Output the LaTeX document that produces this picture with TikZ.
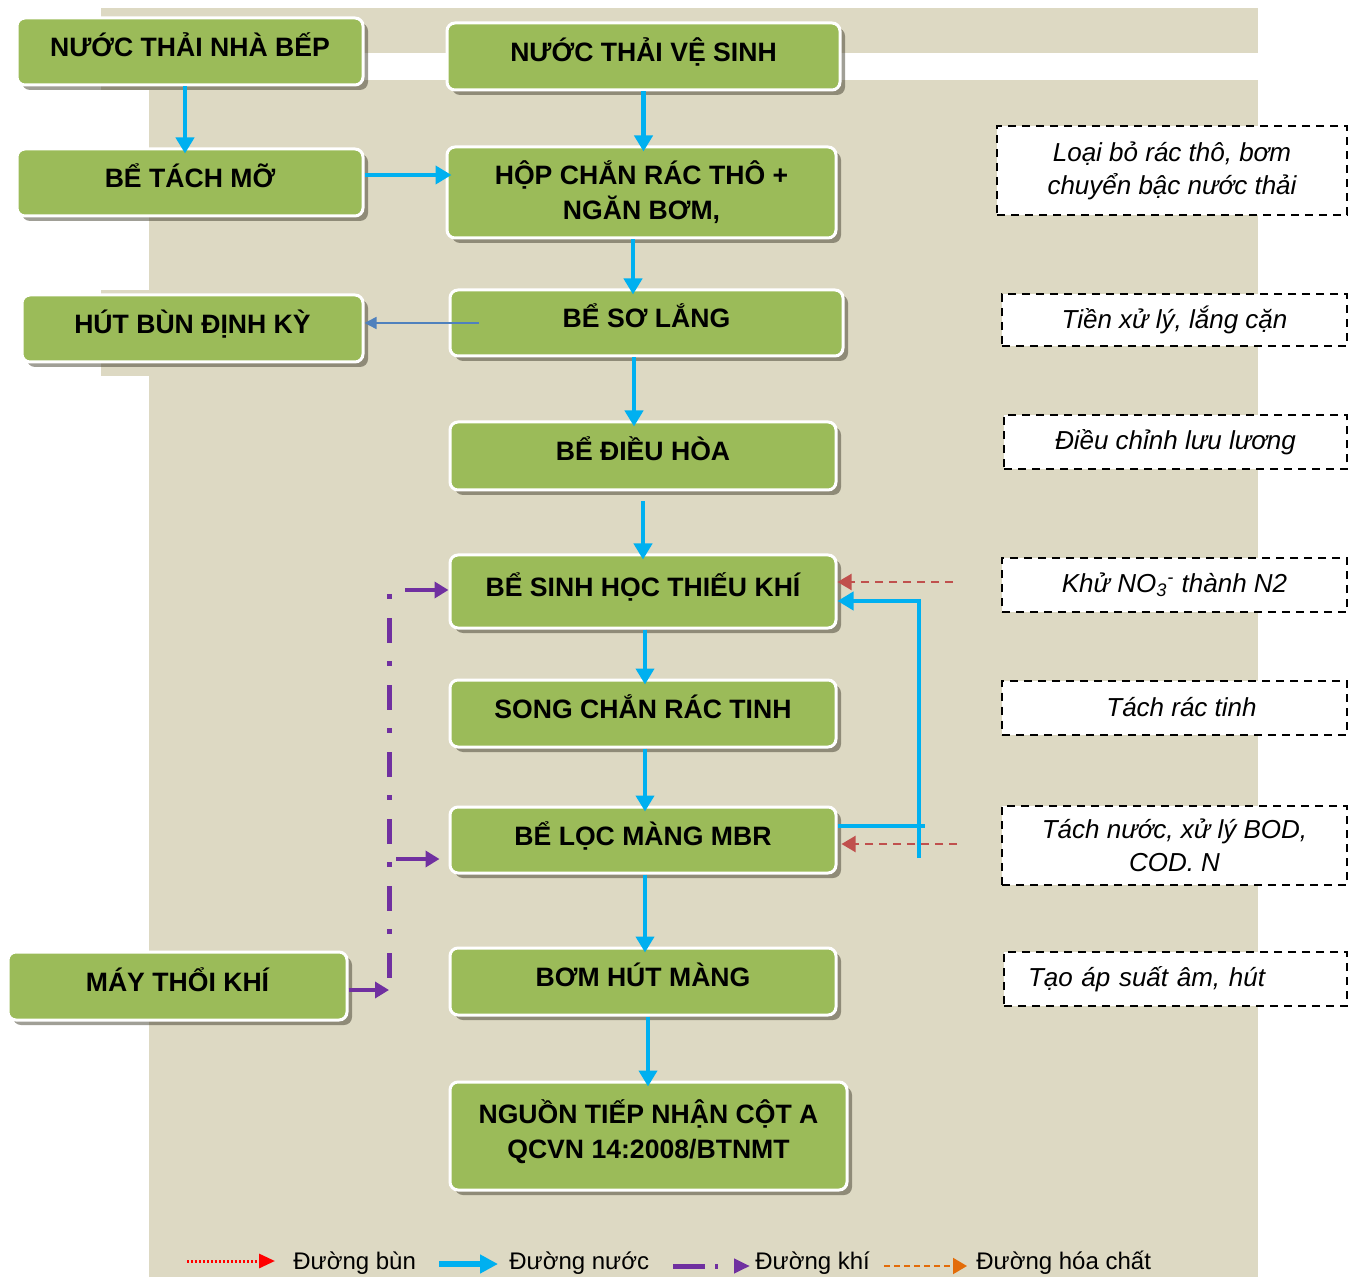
\documentclass[tikz,border=0pt]{standalone}
\usepackage{fontspec}
\setmainfont{Liberation Sans}
\usetikzlibrary{arrows.meta, shadows}

\definecolor{panelbeige}{HTML}{DDD9C3}
\definecolor{stagegreen}{HTML}{9BBB59}
\definecolor{waterblue}{HTML}{00B0F0}
\definecolor{sludgered}{HTML}{C0504D}
\definecolor{airpurple}{HTML}{7030A0}
\definecolor{chemorange}{HTML}{E36C09}
\definecolor{drainblue}{HTML}{4F81BD}

\begin{document}
\begin{tikzpicture}[
  x = 0.5pt, y = -0.5pt,
  stage/.style = {
    shape = rectangle,
    rounded corners = 4pt,
    fill = stagegreen,
    draw = white,
    line width = 1.5pt,
    drop shadow = {shadow xshift = 2.5pt, shadow yshift = -2.5pt, opacity = 0.5, fill = black!70!olive},
    font = \bfseries\fontsize{13.3}{17.5}\selectfont,
    align = center,
    inner sep = 0pt,
    minimum width = 193pt,
    minimum height = 33.5pt,
  },
  oneline/.style = {
    text height = 9pt,
    text depth = 4pt
  },
  note/.style = {
    shape = rectangle,
    fill = white,
    draw = black,
    line width = 1pt,
    dash pattern = on 4pt off 3pt,
    font = \itshape\fontsize{13}{16.5}\selectfont,
    align = center,
    inner sep = 0pt,
    minimum width = 172.5pt,
    minimum height = 27pt,
  },
  legend/.style = {
    font = \fontsize{12}{14}\selectfont,
    anchor = west,
    inner sep = 0pt
  },
  water/.style = {
    draw = waterblue,
    line width = 2.2pt,
    -{Triangle[length = 8pt, width = 9pt]},
    shorten > = -3pt
  },
  sludge/.style = {
    draw = sludgered,
    line width = 1pt,
    dash pattern = on 4pt off 3pt,
    -{Triangle[length = 7pt, width = 8pt]}
  },
  air/.style = {
    draw = airpurple,
    line width = 2pt,
    -{Triangle[length = 7pt, width = 8pt]}
  },
  airline/.style = {
    draw = airpurple,
    line width = 2.5pt,
    dash pattern = on 2.5pt off 9.5pt on 12.5pt off 9pt
  },
  drain/.style = {
    draw = drainblue,
    line width = 0.75pt,
    -{Triangle[length = 6pt, width = 6pt]}
  }
]
  \useasboundingbox (0, 0) rectangle (1353, 1277);

  % background panel
  \fill[panelbeige] (101, 8) rectangle (1258, 53);
  \fill[panelbeige] (149, 80) rectangle (1258, 1277);
  \fill[panelbeige] (101, 8) rectangle (149, 90);
  \fill[panelbeige] (101, 290) rectangle (149, 376);

  % left column
  \node[stage, oneline, minimum width = 173pt] (kitchen) at (190, 51.5) {NƯỚC THẢI NHÀ BẾP};
  \node[stage, oneline, minimum width = 173pt] (grease) at (190, 182.5) {BỂ TÁCH MỠ};
  \node[stage, oneline, minimum width = 170.5pt] (sludge) at (192.5, 328.5) {HÚT BÙN ĐỊNH KỲ};
  \node[stage, oneline, minimum width = 169.5pt, minimum height = 34pt] (blower) at (177.5, 986) {MÁY THỔI KHÍ};

  % main line
  \node[stage, oneline, minimum width = 196.5pt] (toilet) at (643.5, 56.5) {NƯỚC THẢI VỆ SINH};
  \node[stage, minimum width = 194.5pt, minimum height = 45.5pt] (screen) at (641.5, 192.5) {HỘP CHẮN RÁC THÔ +\\NGĂN BƠM,};
  \node[stage, oneline, minimum width = 196.5pt, minimum height = 33pt] (settle) at (646.5, 323) {BỂ SƠ LẮNG};
  \node[stage, oneline, minimum height = 34pt] (equal) at (643, 456) {BỂ ĐIỀU HÒA};
  \node[stage, oneline, minimum height = 36.5pt] (anoxic) at (643, 591.5) {BỂ SINH HỌC THIẾU KHÍ};
  \node[stage, oneline] (fine) at (643, 713.5) {SONG CHẮN RÁC TINH};
  \node[stage, oneline, minimum height = 33pt] (mbr) at (643, 840) {BỂ LỌC MÀNG MBR};
  \node[stage, oneline] (pump) at (643, 981.5) {BƠM HÚT MÀNG};
  \node[stage, minimum width = 198.5pt, minimum height = 54pt] (outlet) at (648.5, 1136) {NGUỒN TIẾP NHẬN CỘT A\\QCVN 14:2008/BTNMT\vspace{4pt}};

  % notes
  \node[note, minimum width = 175pt, minimum height = 44.5pt] (noteScreen) at (1172, 170.5) {Loại bỏ rác thô, bơm\\chuyển bậc nước thải};
  \node[note, minimum height = 26pt] (noteSettle) at (1174.5, 320) {Tiền xử lý, lắng cặn};
  \node[note, minimum width = 171.5pt] (noteEqual) at (1175.5, 442.5) {Điều chỉnh lưu lương};
  \node[note] (noteAnoxic) at (1174.5, 585) {Khử NO\textsubscript{3}\textsuperscript{-} thành N2};
  \node[note] (noteFine) at (1174.5, 707.5) {\hspace{7pt}Tách rác tinh};
  \node[note, minimum height = 39.5pt] (noteMbr) at (1174.5, 845.5) {Tách nước, xử lý BOD,\\COD. N};
  \node[note, minimum width = 171.5pt, text width = 147.5pt, align = left] (notePump) at (1175.5, 979) {Tạo áp suất âm, hút};

  % water line
  \draw[water] ([xshift = -2.5pt]kitchen.south) -- ([xshift = -2.5pt]grease.north);
  \draw[water] ([yshift = 3.75pt]grease.east) -- (screen.west |- 0, 175);
  \draw[water] (toilet.south) -- (toilet.south |- screen.north);
  \draw[water] (screen.south -| 633, 0) -- (settle.north -| 633, 0);
  \draw[water] (settle.south -| 634, 0) -- (equal.north -| 634, 0);
  \draw[water] ([yshift = -5pt]equal.south) -- (anoxic.north);
  \draw[water] (anoxic.south -| 645, 0) -- (fine.north -| 645, 0);
  \draw[water] (fine.south -| 645, 0) -- (mbr.north -| 645, 0);
  \draw[water] (mbr.south -| 645, 0) -- (pump.north -| 645, 0);
  \draw[water] (pump.south -| 648, 0) -- (outlet.north -| 648, 0);

  % return loop
  \coordinate (retTop) at (919, 601);
  \coordinate (retMid) at (919, 826);
  \coordinate (retBot) at (919, 858);
  \draw[water, -] (mbr.east |- retMid) -- (retMid);
  \draw[water, shorten > = 0pt] (retBot) -- (retTop) -- (anoxic.east |- retTop);

  % sludge to settle
  \draw[drain] ([xshift = 15pt]settle.west) -- (sludge.east |- settle.west);

  % dashed red inputs
  \coordinate (mudA) at (953, 582);
  \coordinate (mudB) at (957, 844);
  \draw[sludge] (mudA) -- (anoxic.east |- mudA);
  \draw[sludge] (mudB) -- ([xshift = 2pt]mbr.east |- mudB);

  % air
  \coordinate (airTop) at (389, 594);
  \coordinate (airBot) at (389, 992);
  \coordinate (airA) at (405, 590);
  \coordinate (airB) at (396, 859);
  \draw[airline] (airTop) -- (airBot);
  \draw[air] (airA) -- (anoxic.west |- airA);
  \draw[air, shorten > = 4.5pt] (airB) -- (mbr.west |- airB);
  \draw[air] (blower.east |- 0, 990) -- (airBot |- 0, 990);

  % legend
  \coordinate (lgMudA) at (187, 1261);
  \coordinate (lgMudB) at (275, 1261);
  \coordinate (lgWaterA) at (439, 1264);
  \coordinate (lgWaterB) at (498, 1264);
  \coordinate (lgAirA) at (673, 1266);
  \coordinate (lgAirB) at (750, 1266);
  \coordinate (lgChemA) at (884, 1266);
  \coordinate (lgChemB) at (967, 1266);
  \draw[draw = red, line width = 1.5pt, dash pattern = on 1pt off 1pt, -{Triangle[length = 8pt, width = 7pt]}] (lgMudA) -- (lgMudB);
  \draw[draw = waterblue, line width = 3pt, -{Triangle[length = 9pt, width = 9pt]}] (lgWaterA) -- (lgWaterB);
  \draw[draw = airpurple, line width = 2.5pt, dash pattern = on 16pt off 5pt on 1.5pt off 20pt, -{Triangle[length = 8pt, width = 7pt]}] (lgAirA) -- (lgAirB);
  \draw[draw = chemorange, line width = 1pt, dash pattern = on 3pt off 2pt, -{Triangle[length = 7pt, width = 8pt]}] (lgChemA) -- (lgChemB);
  \node[legend] (lgMud) at (293, 1263) {Đường bùn};
  \node[legend] (lgWater) at (509, 1263) {Đường nước};
  \node[legend] (lgAir) at (755, 1263) {Đường khí};
  \node[legend] (lgChem) at (976, 1263) {Đường hóa chất};
\end{tikzpicture}
\end{document}
